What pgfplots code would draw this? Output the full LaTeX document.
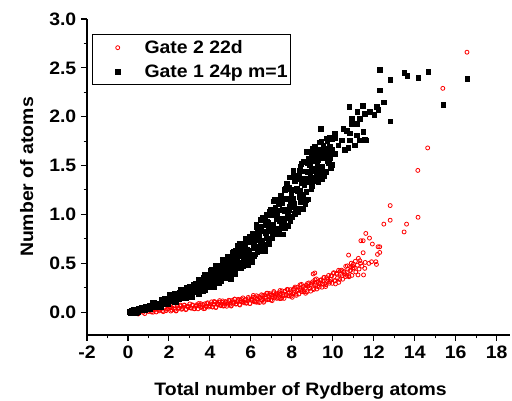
\documentclass[border=0pt]{standalone}
\usepackage{fontspec}
\setmainfont{Liberation Sans}[FakeStretch=1.08]
\usepackage{pgfplots}
\pgfplotsset{compat=1.18}

\begin{document}
\begin{tikzpicture}
\begin{axis}[
  scale only axis,
  width=317.25pt, height=237pt,
  xmin=-2, xmax=18.65, ymin=-0.235, ymax=3.0,
  axis x line=bottom, axis y line=left,
  axis line style={-, line width=0.8pt},
  xtick={-2,0,2,4,6,8,10,12,14,16,18},
  ytick={0,0.5,1,1.5,2,2.5,3},
  minor x tick num=1, minor y tick num=1,
  tick align=outside,
  major tick length=4.5pt, minor tick length=2.5pt,
  tick style={line width=0.8pt, black},
  ticklabel style={font=\fontsize{13.5}{15}\selectfont\bfseries},
  /pgf/number format/assume math mode=true,
  yticklabel style={/pgf/number format/.cd, fixed, fixed zerofill, precision=1},
  xlabel={Total number of Rydberg atoms},
  ylabel={Number of atoms},
  label style={font=\fontsize{13.5}{15}\selectfont\bfseries},
  xlabel style={at={(axis description cs:0.505,-0.19)}, anchor=base},
  ylabel style={at={(axis description cs:-0.1425,0.5)}, anchor=center},
  clip=false,
  legend style={at={(axis description cs:0,1)}, anchor=north west,
    xshift=4pt, yshift=-11.5pt, draw=black, line width=0.75pt,
    font=\fontsize{13.5}{15}\selectfont\bfseries,
    inner xsep=0pt, inner ysep=2pt, row sep=3pt, cells={anchor=west}},
  legend image code/.code={\path (0pt,0pt) (36pt,0pt);
    \draw[#1,mark repeat=1] plot coordinates {(18.3pt,0pt)};},
]
% Gate 2 22d
\addplot[only marks, mark=o, mark size=1.5pt, mark options={draw=red, line width=0.6pt}] coordinates {
(0.42,-0.014)(0.50,-0.020)(0.58,0.009)(0.66,0.026)(0.74,-0.003)(0.82,-0.016)(0.90,0.026)(0.98,0.008)(1.06,0.037)(1.14,0.001)(1.22,0.021)(1.30,0.038)(1.38,0.001)(1.46,0.031)(1.54,0.023)(1.62,0.052)(1.70,0.016)(1.78,0.040)(1.86,0.014)(1.94,0.034)
(1.02,0.007)(1.12,0.031)(1.22,-0.002)(1.32,0.023)(1.42,0.045)(1.52,0.012)(1.62,0.037)(1.72,0.004)(1.82,0.049)(1.92,0.028)
(2.02,0.050)(2.09,0.010)(2.15,0.044)(2.22,0.063)(2.29,0.028)(2.35,0.011)(2.42,0.060)(2.49,0.038)(2.55,0.072)(2.62,0.028)(2.69,0.050)(2.75,0.069)(2.82,0.025)(2.89,0.060)(2.95,0.049)(3.02,0.083)(3.09,0.039)(3.15,0.067)(3.22,0.035)(3.29,0.058)(3.35,0.074)(3.42,0.033)(3.49,0.067)(3.55,0.086)(3.62,0.051)(3.69,0.035)(3.75,0.084)(3.82,0.061)(3.89,0.095)(3.95,0.051)
(2.05,0.045)(2.15,0.020)(2.25,0.068)(2.35,0.014)(2.45,0.043)(2.55,0.062)(2.65,0.036)(2.75,0.072)(2.85,0.029)(2.95,0.058)(3.05,0.044)(3.15,0.073)(3.25,0.033)(3.35,0.062)(3.45,0.087)(3.55,0.047)(3.65,0.076)(3.75,0.036)(3.85,0.088)(3.95,0.063)
(4.02,0.064)(4.08,0.104)(4.13,0.052)(4.19,0.079)(4.25,0.101)(4.30,0.050)(4.36,0.090)(4.42,0.077)(4.47,0.117)(4.53,0.065)(4.59,0.099)(4.65,0.061)(4.70,0.088)(4.76,0.107)(4.82,0.059)(4.87,0.099)(4.93,0.121)(4.99,0.081)(5.04,0.061)(5.10,0.119)(5.16,0.092)(5.21,0.132)(5.27,0.081)(5.33,0.107)(5.38,0.130)(5.44,0.078)(5.50,0.119)(5.56,0.105)(5.61,0.145)(5.67,0.094)(5.73,0.127)(5.78,0.090)(5.84,0.116)(5.90,0.136)(5.95,0.087)
(4.04,0.082)(4.12,0.052)(4.21,0.108)(4.29,0.046)(4.37,0.079)(4.46,0.101)(4.54,0.072)(4.62,0.114)(4.71,0.064)(4.79,0.097)(4.87,0.082)(4.96,0.115)(5.04,0.068)(5.12,0.102)(5.21,0.132)(5.29,0.085)(5.37,0.118)(5.46,0.072)(5.54,0.134)(5.62,0.104)(5.71,0.124)(5.79,0.094)(5.87,0.150)(5.96,0.088)
(6.02,0.135)(6.07,0.119)(6.12,0.170)(6.17,0.105)(6.22,0.147)(6.27,0.100)(6.32,0.133)(6.37,0.158)(6.42,0.097)(6.47,0.148)(6.52,0.177)(6.57,0.125)(6.62,0.100)(6.67,0.174)(6.72,0.140)(6.77,0.192)(6.82,0.126)(6.87,0.160)(6.92,0.189)(6.97,0.123)(7.02,0.175)(7.07,0.159)(7.12,0.210)(7.17,0.145)(7.22,0.187)(7.27,0.140)(7.32,0.173)(7.37,0.198)(7.42,0.137)(7.47,0.188)(7.52,0.217)(7.57,0.165)(7.62,0.140)(7.67,0.214)(7.72,0.180)(7.77,0.232)(7.82,0.166)(7.87,0.200)(7.92,0.229)(7.97,0.163)
(6.04,0.122)(6.12,0.150)(6.19,0.112)(6.27,0.167)(6.35,0.103)(6.42,0.146)(6.50,0.127)(6.58,0.170)(6.65,0.110)(6.73,0.154)(6.81,0.193)(6.88,0.133)(6.96,0.176)(7.04,0.117)(7.12,0.197)(7.19,0.159)(7.27,0.185)(7.35,0.147)(7.42,0.220)(7.50,0.140)(7.58,0.183)(7.65,0.211)(7.73,0.173)(7.81,0.228)(7.88,0.164)(7.96,0.207)
(8.02,0.151)(8.07,0.235)(8.11,0.198)(8.16,0.256)(8.20,0.184)(8.25,0.223)(8.29,0.255)(8.34,0.184)(8.38,0.242)(8.43,0.225)(8.47,0.283)(8.52,0.211)(8.56,0.259)(8.61,0.208)(8.65,0.246)(8.70,0.274)(8.74,0.207)(8.79,0.265)(8.83,0.298)(8.88,0.242)(8.92,0.214)(8.97,0.298)
(8.04,0.187)(8.13,0.242)(8.22,0.171)(8.31,0.228)(8.40,0.278)(8.49,0.207)(8.58,0.263)(8.67,0.192)(8.76,0.292)(8.85,0.249)(8.94,0.283)(9.04,0.240)(9.13,0.331)(9.22,0.236)(9.31,0.292)(9.40,0.328)(9.49,0.285)(9.58,0.355)(9.67,0.279)(9.76,0.334)(9.85,0.314)(9.94,0.369)
(9.02,0.310)(9.07,0.231)(9.11,0.295)(9.16,0.276)(9.20,0.339)(9.25,0.261)(9.29,0.312)(9.34,0.256)(9.38,0.297)(9.43,0.328)(9.47,0.254)(9.52,0.317)(9.56,0.353)(9.61,0.291)(9.65,0.261)(9.70,0.352)(9.74,0.311)(9.79,0.375)(9.83,0.295)(9.88,0.338)(9.92,0.373)(9.97,0.294)(9.04,0.39)(9.12,0.40)
(10.03,0.395)(10.08,0.322)(10.13,0.288)(10.18,0.397)(10.23,0.350)(10.28,0.427)(10.33,0.334)(10.38,0.385)(10.43,0.429)(10.48,0.336)(10.53,0.413)(10.58,0.392)(10.63,0.468)(10.68,0.376)(10.73,0.439)(10.78,0.373)(10.83,0.423)(10.88,0.461)(10.93,0.375)(10.98,0.451)
(10.04,0.403)(10.12,0.320)(10.21,0.387)(10.29,0.304)(10.37,0.423)(10.46,0.373)(10.54,0.414)(10.62,0.363)(10.71,0.473)(10.79,0.361)(10.87,0.427)(10.96,0.472)
(11.05,0.45)(11.12,0.41)(11.2,0.48)(11.28,0.44)(11.35,0.5)(11.42,0.47)(11.1,0.52)(11.0,0.49)(10.9,0.50)(11.25,0.55)
(10.77,0.583)(11.61,0.805)(11.79,0.757)(11.37,0.73)(11.48,0.73)(11.93,0.696)(12.21,0.668)(12.29,0.668)(11.48,0.607)(12.18,0.59)(12.29,0.61)(11.32,0.525)(11.58,0.508)(11.89,0.515)(12.1,0.515)(12.13,0.488)(11.76,0.498)(11.56,0.447)(11.5,0.38)(11.23,0.38)
(12.8,1.09)(12.8,0.94)(12.49,0.90)(13.6,0.90)(13.48,0.82)(14.16,0.97)(14.15,1.45)(14.63,1.68)(15.37,2.29)(16.55,2.66)
};
\addlegendentry{Gate 2 22d}
% Gate 1 24p m=1
\addplot[only marks, mark=square*, mark size=1.75pt, mark options={draw=black, fill=black, line width=0.2pt}] coordinates {
(0.05,0.006)(0.10,-0.012)(0.15,0.018)(0.22,0.003)(0.28,0.029)(0.35,0.002)(0.41,0.018)(0.47,-0.001)
(0.53,0.034)(0.58,0.022)(0.64,0.048)(0.70,0.020)(0.76,0.044)(0.83,0.018)(0.89,0.061)(0.95,0.042)
(0.12,-0.006)(0.25,0.024)(0.38,-0.006)(0.50,0.027)(0.62,0.027)(0.73,0.025)(0.86,0.061)(0.98,0.031)
(1.02,0.051)(1.08,0.034)(1.14,0.070)(1.21,0.093)(1.27,0.054)(1.33,0.088)(1.40,0.056)(1.46,0.084)
(1.52,0.090)(1.58,0.056)(1.64,0.118)(1.70,0.088)(1.77,0.143)(1.83,0.089)(1.89,0.123)(1.96,0.086)
(1.05,0.072)(1.15,0.058)(1.25,0.103)(1.35,0.062)(1.45,0.091)(1.55,0.064)(1.65,0.125)(1.75,0.101)(1.85,0.132)(1.95,0.105)
(2.02,0.157)(2.07,0.131)(2.12,0.180)(2.18,0.119)(2.23,0.163)(2.28,0.107)(2.34,0.192)(2.39,0.151)(2.44,0.165)(2.49,0.134)
(2.53,0.196)(2.58,0.236)(2.63,0.156)(2.68,0.220)(2.73,0.152)(2.79,0.205)(2.84,0.149)(2.89,0.237)(2.94,0.187)(2.99,0.263)
(2.04,0.180)(2.11,0.131)(2.18,0.116)(2.25,0.189)(2.32,0.106)(2.39,0.178)(2.46,0.167)(2.53,0.156)(2.60,0.222)(2.67,0.145)(2.74,0.217)(2.81,0.190)(2.88,0.252)(2.95,0.181)
(3.03,0.171)(3.08,0.225)(3.13,0.153)(3.18,0.263)(3.24,0.227)(3.29,0.295)(3.34,0.209)(3.39,0.270)(3.44,0.191)(3.49,0.308)
(3.53,0.246)(3.58,0.271)(3.63,0.215)(3.68,0.321)(3.74,0.384)(3.79,0.265)(3.84,0.362)(3.89,0.261)(3.94,0.340)(3.99,0.257)
(3.04,0.227)(3.11,0.155)(3.18,0.284)(3.25,0.220)(3.32,0.280)(3.39,0.209)(3.46,0.333)(3.53,0.262)(3.60,0.244)(3.67,0.350)(3.74,0.232)(3.81,0.337)(3.88,0.323)(3.95,0.309)
(4.02,0.393)(4.05,0.307)(4.09,0.433)(4.12,0.287)(4.16,0.362)(4.19,0.257)(4.23,0.412)(4.26,0.356)(4.30,0.452)(4.33,0.326)(4.37,0.412)(4.40,0.296)(4.44,0.462)(4.47,0.376)
(4.52,0.403)(4.55,0.324)(4.59,0.462)(4.62,0.539)(4.66,0.378)(4.69,0.502)(4.73,0.365)(4.76,0.466)(4.80,0.352)(4.83,0.525)(4.87,0.423)(4.90,0.572)(4.94,0.398)(4.97,0.487)
(4.03,0.423)(4.08,0.265)(4.14,0.406)(4.19,0.347)(4.25,0.472)(4.30,0.325)(4.36,0.401)(4.41,0.298)(4.47,0.472)(4.52,0.381)(4.58,0.461)(4.63,0.359)(4.69,0.527)(4.74,0.424)(4.80,0.395)(4.85,0.535)(4.91,0.368)(4.96,0.507)
(4.55,0.318)(4.65,0.496)(4.75,0.392)(4.85,0.564)(4.95,0.358)(5.05,0.524)(5.15,0.486)(5.25,0.630)(5.35,0.466)(5.45,0.624)(5.55,0.573)(5.65,0.503)(5.75,0.643)(5.85,0.723)(5.95,0.533)
(5.02,0.344)(5.05,0.559)(5.09,0.482)(5.12,0.614)(5.16,0.439)(5.19,0.556)(5.23,0.395)(5.26,0.625)(5.30,0.506)(5.33,0.539)(5.37,0.449)(5.40,0.608)(5.44,0.699)(5.47,0.509)
(5.52,0.664)(5.55,0.490)(5.59,0.618)(5.62,0.474)(5.66,0.692)(5.69,0.563)(5.73,0.751)(5.76,0.532)(5.80,0.645)(5.83,0.486)(5.87,0.719)(5.90,0.635)(5.94,0.778)(5.97,0.589)
(5.03,0.486)(5.08,0.452)(5.14,0.623)(5.19,0.415)(5.25,0.600)(5.30,0.523)(5.36,0.686)(5.41,0.493)(5.47,0.591)(5.52,0.456)(5.58,0.684)(5.63,0.564)(5.69,0.669)(5.74,0.534)(5.80,0.755)(5.85,0.620)(5.91,0.581)(5.96,0.764)
(6.02,0.725)(6.05,0.528)(6.09,0.809)(6.12,0.662)(6.16,0.705)(6.19,0.593)(6.23,0.789)(6.26,0.897)(6.30,0.668)(6.33,0.845)(6.37,0.649)(6.40,0.792)(6.44,0.631)(6.47,0.875)
(6.52,0.728)(6.55,0.963)(6.59,0.688)(6.62,0.828)(6.66,0.628)(6.69,0.921)(6.73,0.816)(6.76,0.994)(6.80,0.757)(6.83,0.916)(6.87,0.698)(6.90,1.009)(6.94,0.848)(6.97,0.893)
(6.03,0.515)(6.08,0.742)(6.14,0.702)(6.19,0.660)(6.25,0.871)(6.30,0.612)(6.36,0.842)(6.41,0.745)(6.47,0.948)(6.52,0.707)(6.58,0.829)(6.63,0.660)(6.69,0.944)(6.74,0.793)(6.80,0.924)(6.85,0.755)(6.91,1.030)(6.96,0.861)
(6.06,0.743)(6.16,0.577)(6.26,0.736)(6.36,0.857)(6.46,0.699)(6.56,0.965)(6.66,0.637)(6.76,0.892)(6.86,0.836)(6.96,1.048)(7.06,0.798)(7.16,1.033)(7.26,0.951)(7.36,0.843)(7.46,1.043)(7.56,1.163)(7.66,0.866)(7.76,1.316)(7.86,1.042)(7.96,1.164)
(7.02,0.758)(7.06,1.000)(7.10,1.134)(7.15,0.852)(7.19,1.072)(7.23,0.829)(7.27,1.007)(7.31,0.806)(7.35,1.110)(7.40,0.933)(7.44,1.195)(7.48,0.889)
(7.52,1.049)(7.56,0.796)(7.60,1.166)(7.65,1.035)(7.69,1.261)(7.73,0.960)(7.77,1.162)(7.81,0.885)(7.85,1.279)(7.90,1.076)(7.94,1.134)(7.98,0.977)
(7.03,1.017)(7.09,0.900)(7.16,1.149)(7.22,0.856)(7.28,1.003)(7.34,0.798)(7.41,1.145)(7.47,0.962)(7.53,1.120)(7.59,0.915)(7.66,1.252)(7.72,1.047)(7.78,0.985)(7.84,1.264)(7.91,0.929)(7.97,1.208)
(8.02,1.256)(8.06,1.418)(8.10,1.080)(8.15,1.345)(8.19,1.057)(8.23,1.269)(8.27,1.031)(8.31,1.393)(8.35,1.180)(8.40,1.495)(8.44,1.132)(8.48,1.319)
(8.52,1.056)(8.56,1.443)(8.60,1.305)(8.65,1.545)(8.69,1.232)(8.73,1.444)(8.77,1.156)(8.81,1.568)(8.85,1.355)(8.90,1.420)(8.94,1.257)(8.98,1.544)
(8.04,1.162)(8.11,1.111)(8.18,1.396)(8.25,1.057)(8.32,1.366)(8.39,1.243)(8.46,1.516)(8.53,1.201)(8.60,1.366)(8.67,1.147)(8.74,1.528)(8.81,1.333)(8.88,1.510)(8.95,1.291)
(8.05,1.253)(8.15,1.008)(8.25,1.238)(8.35,1.405)(8.45,1.185)(8.55,1.540)(8.65,1.108)(8.75,1.438)(8.85,1.368)(8.95,1.623)(9.05,1.340)(9.15,1.582)(9.25,1.494)(9.35,1.397)(9.45,1.579)(9.55,1.669)(9.65,1.437)(9.75,1.781)(9.85,1.576)(9.95,1.668)
(9.03,1.677)(9.08,1.380)(9.13,1.611)(9.18,1.358)(9.23,1.545)(9.28,1.336)(9.33,1.655)(9.38,1.468)(9.43,1.743)(9.48,1.424)
(9.53,1.584)(9.58,1.396)(9.63,1.676)(9.68,1.578)(9.73,1.750)(9.78,1.526)(9.83,1.680)(9.88,1.474)(9.93,1.772)(9.98,1.620)
(9.05,1.630)(9.15,1.451)(9.25,1.403)(9.35,1.664)(9.45,1.365)(9.55,1.626)(9.65,1.587)(9.75,1.548)(9.85,1.788)(9.95,1.508)
(9.41,1.88)(10.67,1.86)(10.5,1.88)(10.1,1.83)(11.48,1.85)(11.32,1.76)(11.61,1.76)(11.15,1.81)(10.83,1.76)(10.42,1.76)(10.1,1.78)(9.69,1.78)(9.33,1.74)(9.12,1.69)(9.53,1.71)(9.85,1.69)(10.26,1.71)(10.75,1.68)(11.07,1.71)(8.72,1.64)(9.04,1.61)(9.37,1.61)(9.77,1.62)(10.1,1.62)(10.59,1.66)(8.88,1.56)(9.28,1.56)(9.45,1.49)(8.06,1.45)(8.39,1.45)(8.96,1.47)(9.2,1.42)(7.9,1.38)(8.55,1.37)(9.37,1.38)
(12.13,2.10)(12.21,2.07)(12.01,2.02)(11.8,2.05)(11.56,2.03)(11.45,2.11)(11.19,2.05)(10.8,2.10)(10.91,1.98)(11.32,1.98)(11.16,1.93)(10.91,1.93)(11.56,1.77)(10.83,1.83)
(12.29,2.48)(12.8,2.38)(13.48,2.45)(13.62,2.42)(14.16,2.40)(14.65,2.46)(16.55,2.39)(12.29,2.27)(12.49,2.15)(15.38,2.12)(12.8,1.955)
};
\addlegendentry{Gate 1 24p m=1}
\end{axis}
\pgfresetboundingbox
\path ([xshift=-65.25pt,yshift=-49.5pt]current axis.south west) rectangle ([xshift=1.5pt,yshift=14.25pt]current axis.north east);
\end{tikzpicture}
\end{document}
